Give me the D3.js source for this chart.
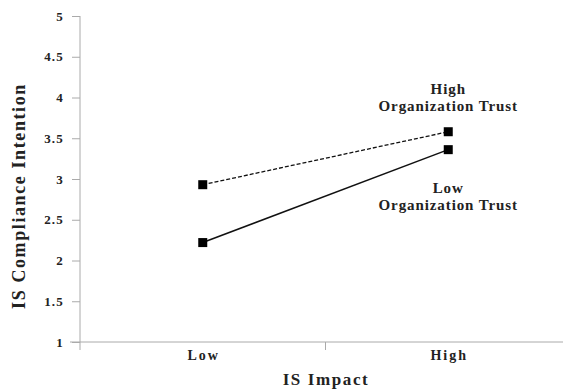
<!DOCTYPE html>
<html>
<head>
<meta charset="utf-8">
<script src="https://cdn.jsdelivr.net/npm/d3@7"></script>
<style>
  body { margin: 0; background: white; }
  text { font-family: "Liberation Serif", "Times New Roman", serif; font-weight: bold; fill: #222; }
</style>
</head>
<body>
<div id="chart"></div>
<script>
const categories = ["Low", "High"];
const highTrust = [2.93, 3.58];
const lowTrust = [2.22, 3.36];
const yTicks = [1, 1.5, 2, 2.5, 3, 3.5, 4, 4.5, 5];

const width = 563;
const height = 392;
const margin = { top: 16, right: -8, bottom: 50, left: 80 };

const svg = d3.select("#chart")
  .append("svg")
  .attr("width", width)
  .attr("height", height)
  .style("background-color", "white");

const x = d3.scaleBand()
  .domain(categories)
  .range([margin.left, width - margin.right])
  .padding(0);

const y = d3.scaleLinear()
  .domain([1, 5])
  .range([height - margin.bottom, margin.top]);

const cx = c => x(c) + x.bandwidth() / 2;
const axisColor = "#aaa";

// Eixo Y
const gy = svg.append("g")
  .attr("transform", `translate(${margin.left},0)`)
  .call(d3.axisLeft(y).tickValues(yTicks).tickSize(8).tickPadding(8).tickFormat(d3.format("")));
gy.select(".domain").attr("stroke", axisColor).attr("d", `M0,${y(5)}V${y(1) + 8}`);
gy.selectAll(".tick line").attr("stroke", axisColor);
gy.selectAll("text")
  .style("font-size", "13px")
  .style("letter-spacing", "1.2px")
  .attr("fill", "#222");

// Eixo X
const gx = svg.append("g")
  .attr("transform", `translate(0,${y(1)})`);
gx.append("line")
  .attr("x1", margin.left - 10).attr("x2", width)
  .attr("stroke", axisColor);
gx.selectAll(".sep")
  .data(categories.slice(1))
  .enter()
  .append("line")
  .attr("x1", d => x(d)).attr("x2", d => x(d))
  .attr("y1", 0).attr("y2", 8)
  .attr("stroke", axisColor);
gx.selectAll(".lab")
  .data(categories)
  .enter()
  .append("text")
  .attr("x", d => cx(d) + 1)
  .attr("y", 18)
  .attr("text-anchor", "middle")
  .style("font-size", "14px")
  .style("letter-spacing", "2px")
  .text(d => d);

// Rótulos dos eixos
svg.append("text")
  .attr("transform", "rotate(-90)")
  .attr("x", -196)
  .attr("y", 25)
  .attr("text-anchor", "middle")
  .style("font-size", "18px")
  .style("letter-spacing", "1.6px")
  .text("IS Compliance Intention");

svg.append("text")
  .attr("x", 326)
  .attr("y", 385)
  .attr("text-anchor", "middle")
  .style("font-size", "17px")
  .style("letter-spacing", "1.6px")
  .text("IS Impact");

// Linhas
const line = d3.line()
  .x((d, i) => cx(categories[i]))
  .y(d => y(d));

svg.append("path")
  .datum(highTrust)
  .attr("d", line)
  .attr("fill", "none")
  .attr("stroke", "#111")
  .attr("stroke-width", 1.3)
  .attr("stroke-dasharray", "4,2");

svg.append("path")
  .datum(lowTrust)
  .attr("d", line)
  .attr("fill", "none")
  .attr("stroke", "#111")
  .attr("stroke-width", 1.5);

[highTrust, lowTrust].forEach(series => {
  svg.selectAll(null)
    .data(series)
    .enter()
    .append("rect")
    .attr("x", (d, i) => cx(categories[i]) - 4.5)
    .attr("y", d => y(d) - 4.5)
    .attr("width", 9)
    .attr("height", 9)
    .attr("fill", "#000");
});

// Rótulos das séries
const hx = cx("High");
const notes = [
  { lines: ["High", "Organization Trust"], y: y(highTrust[1]) - 38 },
  { lines: ["Low", "Organization Trust"], y: y(lowTrust[1]) + 43 }
];
notes.forEach(n => {
  n.lines.forEach((t, i) => {
    svg.append("text")
      .attr("x", hx)
      .attr("y", n.y + i * 17)
      .attr("text-anchor", "middle")
      .style("font-size", "15px")
      .style("letter-spacing", "0.9px")
      .text(t);
  });
});
</script>
</body>
</html>
